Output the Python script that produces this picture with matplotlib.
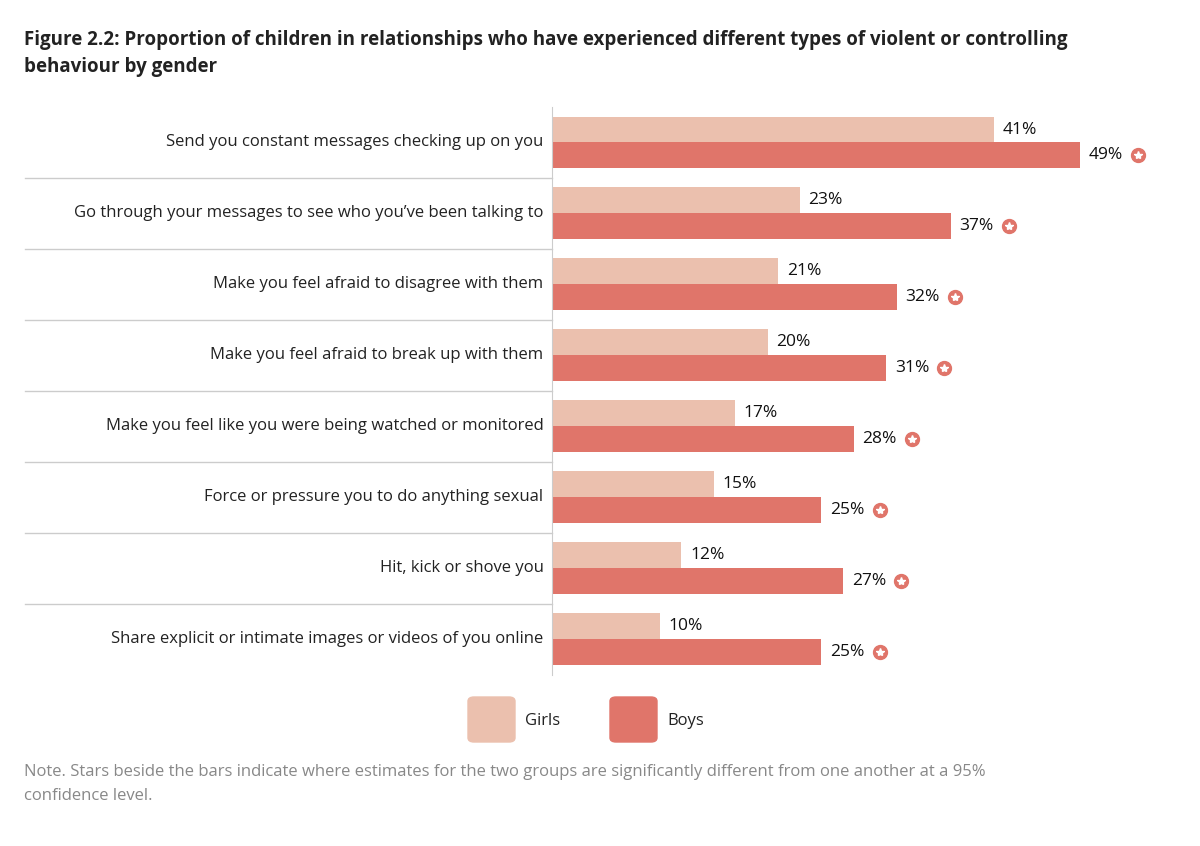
import numpy as np
from matplotlib import pyplot as plt
from matplotlib.patches import FancyBboxPatch

categories = ['Send you constant messages checking up on you',
              'Go through your messages to see who you\u2019ve been talking to',
              'Make you feel afraid to disagree with them',
              'Make you feel afraid to break up with them',
              'Make you feel like you were being watched or monitored',
              'Force or pressure you to do anything sexual',
              'Hit, kick or shove you',
              'Share explicit or intimate images or videos of you online']
girls = [41, 23, 21, 20, 17, 15, 12, 10]
boys = [49, 37, 32, 31, 28, 25, 27, 25]
significant = [True] * 8

girl_col = '#EBC0AE'
boy_col = '#E0756A'
plt.rcParams['font.family'] = ['Open Sans', 'DejaVu Sans']

fig = plt.figure(figsize=(12, 8.46), dpi=100)
ax = fig.add_axes([0.46, 0.2025, 0.521, 0.671])
y = np.arange(len(categories))
h = 0.366
ax.barh(y - h/2, girls, height=h, color=girl_col)
ax.barh(y + h/2, boys, height=h, color=boy_col)
for i in range(len(categories)):
    ax.text(girls[i] + 0.8, i - h/2, '%d%%' % girls[i], va='center', fontsize=12.5, color='#111')
    ax.text(boys[i] + 0.8, i + h/2, '%d%%' % boys[i], va='center', fontsize=12.5, color='#111')
    if significant[i]:
        ax.plot(boys[i] + 5.4, i + h/2, 'o', ms=10, color=boy_col)
        ax.plot(boys[i] + 5.4, i + h/2, '*', ms=6, color='white', mec='white')
    ax.text(-0.8, i, categories[i], ha='right', va='center', fontsize=12, color='#222')
for i in range(len(categories) - 1):
    ax.plot([-0.843, 0], [i + 0.5, i + 0.5], color='#cccccc', lw=1,
            transform=ax.get_yaxis_transform(), clip_on=False)
ax.set_xlim(0, 58)
ax.set_ylim(len(categories) - 0.5, -0.5)
ax.set_xticks([])
ax.set_yticks([])
for s in ['top', 'right', 'bottom']:
    ax.spines[s].set_visible(False)
ax.spines['left'].set_color('#cccccc')

fig.text(0.02, 0.965, 'Figure 2.2: Proportion of children in relationships who have experienced different types of violent or controlling\nbehaviour by gender',
         fontsize=13.5, fontweight='bold', va='top', color='#222', linespacing=1.5)

for x0, col, lab in [(468, girl_col, 'Girls'), (610, boy_col, 'Boys')]:
    fig.patches.append(FancyBboxPatch((x0 / 1200, 1 - 742 / 846), 47 / 1200, 45 / 846,
                                      boxstyle='round,pad=0,rounding_size=0.005',
                                      transform=fig.transFigure, color=col))
    fig.text((x0 + 57) / 1200, 1 - 721 / 846, lab, fontsize=12, va='center', color='#222')

fig.text(0.02, 1 - 784 / 846, 'Note. Stars beside the bars indicate where estimates for the two groups are significantly different from one another at a 95%\nconfidence level.',
         fontsize=12, va='center', color='#888888', linespacing=1.6)

fig.savefig('out.png')
